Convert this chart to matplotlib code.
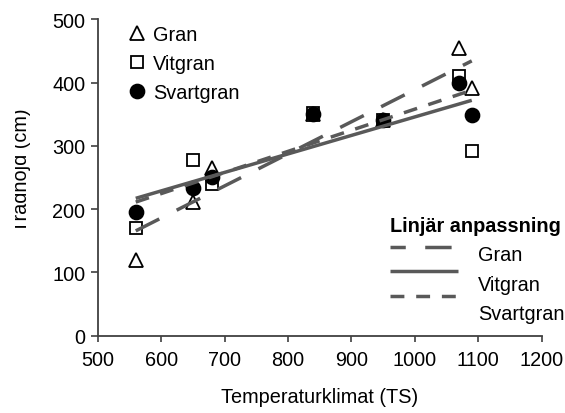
import numpy as np
import matplotlib
matplotlib.use('Agg')
import matplotlib.pyplot as plt
from matplotlib.lines import Line2D
from matplotlib.transforms import Bbox, TransformedBbox

plt.rcParams['font.family'] = ['Liberation Sans', 'DejaVu Sans']
plt.rcParams['font.size'] = 14.3
plt.rcParams['lines.scale_dashes'] = False

# Temperature climate (TS) per site and mean tree height (cm) per species
ts = [560, 650, 680, 840, 950, 1070, 1090]
gran = [120, 212, 265, 350, 340, 454, 391]
vitgran = [170, 277, 239, 352, 340, 410, 292]
svartgran = [196, 234, 250, 350, 340, 400, 348]

species = ['Gran', 'Vitgran', 'Svartgran']
heights = [gran, vitgran, svartgran]
markers = ['^', 's', 'o']
marker_sizes = [10, 8.5, 10]
fills = ['white', 'white', 'black']
dash_styles = [(0, (19, 14)), '-', (0, (10, 8.5))]

xticks = [500, 600, 700, 800, 900, 1000, 1100, 1200]
yticks = [0, 100, 200, 300, 400, 500]

line_col = '#595959'
W, H = 565, 414

fig = plt.figure(figsize=(W / 100, H / 100), dpi=100)
ax = fig.add_axes([97.7 / W, 1 - 336.7 / H, 443.8 / W, 316.5 / H])

x = np.array(ts, dtype=float)
handles = []
for name, y, m, ms, fc in zip(species, heights, markers, marker_sizes, fills):
    h, = ax.plot(x, y, linestyle='none', marker=m, markersize=ms,
                 markerfacecolor=fc, markeredgecolor='black',
                 markeredgewidth=1.3, label=name, zorder=3)
    handles.append(h)

# linear trend lines, drawn over the markers
for y, ls in zip(heights, dash_styles):
    k, b = np.polyfit(x, y, 1)
    xx = np.array([x.min(), x.max()])
    ax.plot(xx, k * xx + b, color=line_col, linestyle=ls, linewidth=2.5,
            zorder=4, solid_capstyle='butt', dash_capstyle='butt')

ax.set_xlim(500, 1200)
ax.set_ylim(0, 500)
ax.set_xticks(xticks)
ax.set_yticks(yticks)
for s in ['top', 'right']:
    ax.spines[s].set_visible(False)
for s in ['left', 'bottom']:
    ax.spines[s].set_color('#404040')
    ax.spines[s].set_linewidth(1.3)
ax.tick_params(axis='x', direction='out', length=4, width=1.2,
               color='#404040', pad=6)
ax.tick_params(axis='y', direction='out', length=5, width=1.2,
               color='#404040', pad=4)
ax.set_xlabel('Temperaturklimat (TS)', labelpad=13)

# y label sits partly outside the frame on the left
ylab = fig.text(27 / W, 1 - 170.5 / H, 'Trädhöjd (cm)', rotation=90,
                rotation_mode='anchor', ha='center', va='baseline')
ylab.set_clip_box(TransformedBbox(Bbox([[14.5 / W, 0], [1, 1]]),
                                  fig.transFigure))
ylab.set_clip_on(True)

ax.legend(handles=handles, loc='upper left',
          bbox_to_anchor=(0.0703, 0.981), frameon=False,
          borderpad=0, borderaxespad=0, handlelength=0.8,
          handletextpad=0.4, labelspacing=0.49)

# legend for the trend lines
fig.text(390 / W, 1 - 226.7 / H, 'Linjär anpassning', fontweight='bold',
         ha='left', va='center')
line_y = [247.7, 272.3, 297.3]
text_y = [256, 286, 315]
legend_dashes = [(8, (19, 14)), '-', (0, (10, 8.5))]
for name, ly, tyy, ls in zip(species, line_y, text_y, legend_dashes):
    fig.add_artist(Line2D([390 / W, 457.7 / W], [1 - ly / H, 1 - ly / H],
                          transform=fig.transFigure, color=line_col,
                          linewidth=2.5, linestyle=ls,
                          solid_capstyle='butt', dash_capstyle='butt'))
    fig.text(478 / W, 1 - tyy / H, name, ha='left', va='center')

fig.savefig('out.png', dpi=100)
